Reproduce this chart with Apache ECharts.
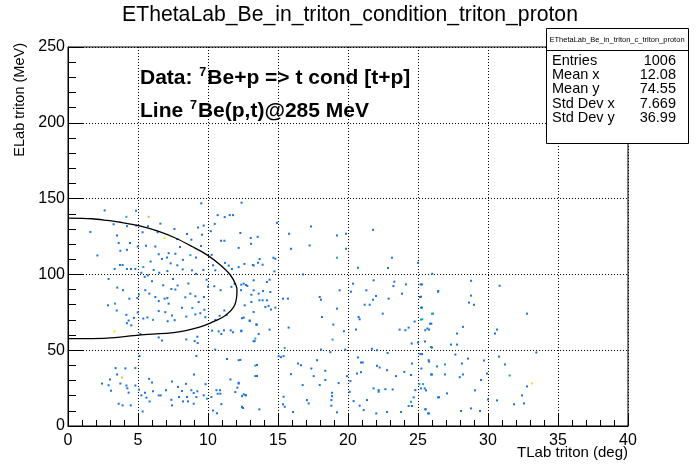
<!DOCTYPE html>
<html>
<head>
<meta charset="utf-8">
<script src="https://cdn.jsdelivr.net/npm/echarts@6/dist/echarts.min.js"></script>
<style>
html,body{margin:0;padding:0;background:#fff;}
#chart{width:698px;height:474px;}
</style>
</head>
<body>
<div id="chart"></div>
<script>
// ---- data ----
const chartTitle = 'EThetaLab_Be_in_triton_condition_triton_proton';
const xTitle = 'TLab triton (deg)';
const yTitle = 'ELab triton (MeV)';
const xRange = [0, 40, 5];
const yRange = [0, 250, 50];

// histogram cells: [theta (deg), energy (MeV), counts]
const cells = [
[9.52,146.9,1],[12.40,147.3,1],[2.62,142.2,1],[4.86,142.0,1],[4.17,138.0,2],[5.76,138.0,3],
[10.69,139.1,1],[11.55,139.1,1],[11.79,139.1,1],[11.19,137.8,1],[5.71,131.8,1],[3.26,133.1,1],
[4.88,132.2,1],[4.21,131.8,1],[5.33,127.8,1],[6.40,127.8,1],[9.29,130.9,1],[9.69,132.2,1],
[10.48,133.3,1],[3.50,125.6,1],[6.90,124.0,4],[7.79,123.3,1],[8.50,126.7,1],[8.81,122.9,1],
[9.57,126.2,1],[10.93,122.2,1],[11.17,122.2,1],[12.31,127.3,1],[13.05,124.0,1],[4.43,120.7,1],
[4.98,118.4,1],[3.62,120.7,1],[3.74,115.6,1],[4.21,116.2,1],[5.57,118.9,1],[6.24,118.4,1],
[6.48,113.3,1],[7.19,114.0,1],[7.67,113.6,1],[8.21,109.6,1],[8.74,112.7,2],[9.14,111.1,1],
[10.26,112.9,1],[6.71,110.2,1],[7.07,111.1,1],[7.33,107.3,1],[3.33,103.6,1],[3.71,106.2,1],
[3.90,106.2,1],[4.21,103.6,1],[4.50,103.6,1],[4.81,103.6,1],[5.38,104.9,2],[5.24,101.1,1],
[5.48,98.4,1],[5.71,99.3,1],[6.12,102.9,1],[6.52,101.1,1],[7.10,102.2,1],[7.81,106.0,1],
[8.19,103.3,1],[8.86,102.7,1],[9.14,100.4,1],[9.67,102.9,1],[10.36,106.0,1],[10.52,102.7,1],
[11.21,107.6,1],[11.48,105.8,1],[11.71,103.6,1],[12.60,106.9,1],[13.21,106.2,1],[3.52,91.3,1],
[3.93,89.6,1],[4.38,84.0,1],[4.95,84.4,1],[5.07,86.7,2],[5.52,89.6,1],[5.81,87.3,1],
[6.24,85.1,1],[6.48,82.4,1],[6.90,84.0,1],[7.10,84.4,1],[7.19,80.7,1],[7.38,90.4,1],
[7.67,90.0,1],[7.83,92.7,1],[8.38,84.9,1],[8.74,87.3,1],[9.10,85.6,1],[9.33,81.8,1],
[9.71,85.1,1],[10.00,91.8,1],[10.45,92.2,1],[10.90,89.6,1],[11.67,91.8,1],[11.90,93.8,1],
[12.36,89.6,1],[12.81,92.4,1],[13.10,81.8,1],[12.62,79.6,1],[2.86,79.6,1],[3.36,80.7,2],
[3.48,76.2,1],[4.17,73.3,1],[4.33,69.6,1],[4.21,67.8,1],[4.52,66.4,1],[4.71,71.3,1],
[4.98,74.9,1],[5.38,70.9,1],[5.67,71.6,1],[6.07,70.0,2],[6.48,75.8,1],[6.95,75.1,1],
[7.12,69.1,1],[7.43,72.9,1],[7.62,69.8,1],[8.14,78.0,1],[8.45,72.2,1],[8.88,77.8,2],
[9.10,73.6,1],[9.45,74.4,1],[9.74,76.7,1],[9.81,71.8,1],[10.52,70.0,1],[10.83,72.7,1],
[11.17,76.2,1],[11.33,73.3,1],[12.43,71.1,1],[12.98,69.6,1],[13.48,66.7,1],[3.33,62.4,4],
[5.17,60.7,1],[6.48,58.4,1],[8.45,57.1,1],[9.24,58.9,1],[10.29,62.9,1],[10.76,62.4,1],
[10.95,60.7,1],[11.14,63.1,1],[11.62,63.1,1],[11.79,61.8,1],[12.38,62.9,1],[13.62,60.7,1],
[2.1,112.5,1],[2.9,97.0,1],[1.6,128.0,1],[6.0,95.5,1],[7.5,97.0,1],[8.6,94.0,1],[9.9,96.5,1],
[6.8,92.8,1],[5.9,108.5,1],[8.0,118.0,1],[9.5,118.8,1],[10.2,128.5,1],[6.6,133.5,1],[7.6,130.0,1],
[6.71,56.4,1],[9.05,56.0,1],[9.26,54.7,1],[13.33,56.0,1],[5.10,46.2,1],[9.17,46.2,1],
[10.52,50.4,1],[11.36,44.2,1],[12.31,43.6,1],[13.50,40.2,1],[13.38,32.9,1],[3.40,38.2,1],
[4.10,38.0,1],[4.81,38.2,1],[3.50,34.0,1],[3.86,32.0,3],[3.00,30.7,1],[2.43,28.0,1],
[2.90,26.9,1],[3.07,23.3,1],[3.74,28.0,1],[4.17,26.7,1],[4.24,24.9,1],[4.33,22.0,1],
[4.81,26.7,1],[5.07,24.0,1],[5.50,22.0,1],[5.24,20.2,1],[5.79,31.1,1],[6.00,28.7,1],
[6.07,22.9,1],[5.60,18.7,1],[5.83,16.2,1],[3.62,14.7,1],[3.90,13.6,1],[4.48,13.6,1],
[5.33,9.6,1],[6.48,20.2,1],[6.62,20.2,1],[7.00,23.6,1],[7.43,29.3,1],[7.38,17.3,1],
[7.43,13.6,1],[7.86,25.8,1],[7.93,19.1,1],[8.14,23.1,1],[8.21,16.2,1],[8.50,19.1,1],
[8.57,16.2,1],[8.43,27.8,1],[8.81,23.6,1],[8.98,21.8,1],[9.00,34.0,1],[9.24,22.9,1],
[9.17,19.1,1],[8.98,14.7,1],[9.83,27.6,1],[9.69,20.2,1],[9.93,18.0,2],[10.24,19.1,1],
[10.60,23.6,1],[10.86,23.6,1],[10.88,21.3,1],[10.69,21.3,1],[10.36,10.2,1],[10.64,8.4,1],
[10.95,14.4,1],[11.60,30.7,1],[11.95,22.4,1],[12.19,28.0,1],[12.10,25.3,1],[12.55,20.9,1],
[12.71,20.2,1],[12.43,12.4,1],[12.50,11.8,1],
[14.93,134.0,1],[13.55,124.8,1],[13.07,120.2,1],[12.19,117.5,1],[15.79,126.8,1],[15.93,116.9,1],
[17.36,131.6,1],[17.26,119.1,1],[19.21,125.7,1],[19.86,126.8,1],[19.86,116.9,1],[19.21,111.0,2],
[21.79,129.4,1],[23.14,111.0,1],[22.86,104.2,1],[25.00,107.7,1],[20.71,104.4,1],[16.79,100.0,1],
[12.19,104.8,1],[13.26,105.9,1],[13.57,107.7,1],[13.69,110.1,1],[13.90,106.4,1],[14.67,111.0,1],
[14.74,102.0,1],[14.81,110.3,1],
[12.55,93.9,1],[12.38,93.2,1],[12.71,93.0,1],[13.26,96.1,1],[14.21,95.0,1],[14.40,96.5,1],
[13.26,89.5,1],[13.10,86.6,1],[13.62,87.3,1],[13.93,89.0,1],[14.45,88.4,1],[13.67,82.9,1],
[13.90,82.9,1],[14.21,82.9,1],[14.10,78.5,1],[14.33,79.2,1],[14.50,76.8,1],[14.81,78.1,1],
[13.26,75.2,1],[12.55,71.5,1],[12.98,69.3,1],[13.45,67.1,1],[14.40,63.6,1],[12.38,62.5,1],
[13.38,57.7,2],[13.26,55.9,1],[15.36,84.0,1],[15.71,84.0,1],[15.76,64.9,1],[15.48,51.5,2],
[17.98,85.1,1],[18.07,83.3,1],[18.14,71.9,1],[19.21,77.4,1],[18.95,66.9,1],[18.90,57.0,2],
[19.71,62.5,1],[19.40,89.5,1],[20.21,88.6,1],[20.36,93.9,1],[20.76,71.9,1],[20.83,70.4,1],
[20.57,63.6,1],[21.19,80.0,1],[21.55,80.0,1],[21.79,83.3,1],[22.00,85.7,1],[21.83,96.1,1],
[21.31,89.5,1],[22.48,74.1,1],[22.90,84.0,1],[23.24,92.3,1],[23.31,95.2,1],[23.86,87.3,1],
[24.14,93.4,1],[23.69,63.6,1],[24.10,63.2,1],[24.33,64.9,1],[24.76,68.9,1],[24.55,54.4,1],
[25.00,55.0,1],[25.14,85.1,1],[25.21,78.1,1],[25.21,70.2,2],[25.19,93.4,1],[25.52,63.2,1],
[25.67,64.3,1],[25.86,67.5,1],[26.00,74.1,2],[25.93,52.0,1],[26.45,89.0,1],[21.71,50.9,1],
[22.07,50.0,1],[22.83,48.2,1],[18.07,50.4,1],[18.74,48.7,1],[19.81,50.4,1],
[12.19,43.4,1],[13.38,39.9,2],[13.50,32.9,1],[12.67,20.4,1],[12.43,19.7,1],[12.43,12.7,1],
[13.67,11.0,1],[12.19,28.5,1],[15.05,46.1,1],[15.21,45.4,1],[15.40,46.1,1],[16.43,41.2,1],
[16.64,40.1,1],[15.93,34.2,1],[17.79,43.4,1],[17.38,37.9,1],[17.55,32.9,1],[16.76,27.0,1],
[15.40,19.3,1],[17.07,17.1,1],[17.19,14.9,1],[17.98,27.0,1],[18.38,36.4,1],[18.38,30.3,1],
[19.33,28.3,1],[18.86,21.9,1],[18.86,19.7,1],[18.81,17.1,1],[18.81,13.4,1],[19.21,9.0,1],
[16.07,9.2,1],[15.36,14.3,1],[15.48,12.7,1],[19.93,32.9,1],[20.17,29.6,1],[20.64,34.6,1],
[20.93,35.5,1],[20.93,41.9,1],[21.05,41.9,1],[20.71,45.2,1],[20.12,22.6,1],[20.40,16.4,1],
[20.83,13.4,1],[21.12,10.5,1],[22.02,8.3,1],[22.79,9.2,1],[23.79,9.2,1],[21.36,17.1,1],
[21.83,24.8,1],[22.19,23.7,1],[22.19,22.6,1],[22.67,24.3,1],[23.19,24.1,1],[22.07,39.7,1],
[22.26,38.6,1],[22.79,36.8,1],[23.43,32.9,1],[24.02,35.7,1],[24.50,33.6,1],[24.57,41.2,1],
[25.17,47.4,1],[25.24,37.9,1],[25.10,27.6,2],[24.81,23.7,1],[24.69,18.9,1],[24.50,16.0,2],
[24.57,13.2,1],[24.33,13.2,1],[25.48,24.8,1],[25.52,11.0,1],[25.71,8.3,1],[25.76,43.4,1],
[25.93,34.0,1],[26.43,18.9,1],
[26.02,100.4,1],[28.79,95.8,1],[30.83,92.5,1],[26.43,88.6,1],[25.29,93.4,1],[25.21,85.3,1],
[28.79,86.0,1],[28.64,81.4,1],[29.00,80.0,1],[25.29,78.1,1],[32.79,74.1,1],[26.07,74.1,2],
[25.31,70.4,2],[25.95,67.5,1],[28.21,65.4,1],[25.79,63.6,1],[30.64,63.6,1],[30.50,61.0,1],
[27.79,61.0,1],[25.50,55.7,1],[26.00,51.8,1],[27.36,53.7,1],[27.79,53.7,1],[33.45,48.5,1],
[25.29,47.4,1],[27.67,47.1,1],[30.79,45.8,1],[25.79,42.5,1],[26.93,40.6,2],[28.14,41.2,1],
[28.57,44.5,1],[29.71,43.2,1],[31.21,40.6,1],[26.36,39.3,1],[26.00,34.0,1],[26.93,34.0,1],
[28.21,34.0,1],[27.98,32.2,1],[29.50,30.3,1],[31.55,33.3,2],[29.93,34.6,1],[25.36,27.6,2],
[25.21,24.8,1],[25.57,23.5,1],[27.07,21.5,1],[29.07,23.5,1],[32.79,26.1,1],[33.14,28.1,4],
[26.50,18.9,1],[32.43,20.2,1],[30.00,17.5,1],[30.64,16.9,1],[31.86,14.3,1],[32.57,14.9,1],
[25.55,11.0,1],[28.07,9.9,1],[28.79,11.6,1],[29.43,9.9,1],[25.79,8.3,1]
];

// kinematic line 7Be(p,t)@285 MeV
const lineTheta  = [0, 1.71, 2.79, 3.74, 5.05, 6.48, 7.67, 8.86, 9.93, 10.88, 11.6, 12.0, 12.07, 11.9, 11.24, 10.29, 9.33, 7.67, 5.05, 2.79, 0];
const lineEnergy = [137.1, 136.7, 135.6, 134.4, 132.2, 128.4, 124.0, 118.4, 112.9, 106.2, 99.6, 92.9, 89.6, 79.6, 72.9, 68.4, 65.1, 61.8, 60.0, 58.0, 57.6];

const statsTitle = 'EThetaLab_Be_in_triton_c_triton_proton';
const statsLabels = ['Entries', 'Mean x', 'Mean y', 'Std Dev x', 'Std Dev y'];
const statsValues = ['1006', '12.08', '74.55', '7.669', '36.99'];

const countColors = {1: '#1a72da', 2: '#19a3b4', 3: '#f2b23e', 4: '#f3e21c'};

// ---- chart ----
const FONT = '"Liberation Sans", Arial, Helvetica, sans-serif';
const chart = echarts.init(document.getElementById('chart'), null, {renderer: 'canvas'});

const gridL = 68, gridT = 47, gridR = 628, gridB = 426;
const statsX = 546, statsY = 28, statsW = 142, statsH = 115;

const boldRich = {
  b: {fontSize: 21, fontWeight: 'bold', fontFamily: FONT, color: '#000', lineHeight: 24},
  s: {fontSize: 12.5, fontWeight: 'bold', fontFamily: FONT, color: '#000', verticalAlign: 'top', lineHeight: 24, padding: [0, 1, 10, 1]}
};

const graphics = [
  {type: 'text', x: 350, y: 15, style: {text: chartTitle, align: 'center', verticalAlign: 'middle', font: '21.2px ' + FONT, fill: '#000'}},
  {type: 'text', x: gridR, y: 453, style: {text: xTitle, align: 'right', verticalAlign: 'middle', font: '15px ' + FONT, fill: '#000'}},
  {type: 'text', x: 20, y: 43, rotation: Math.PI / 2, style: {text: yTitle, align: 'right', verticalAlign: 'middle', font: '14.5px ' + FONT, fill: '#000'}},
  {type: 'text', x: 140, y: 78, style: {text: '{b|Data: }{s|7}{b|Be+p => t cond [t+p]}', verticalAlign: 'middle', align: 'left', rich: boldRich}},
  {type: 'text', x: 140, y: 111, style: {text: '{b|Line }{s|7}{b|Be(p,t)@285 MeV}', verticalAlign: 'middle', align: 'left', rich: boldRich}},
  {type: 'rect', shape: {x: statsX + 0.5, y: statsY + 0.5, width: statsW, height: statsH}, style: {fill: '#fff', stroke: '#000', lineWidth: 1}, z: 10},
  {type: 'line', shape: {x1: statsX, y1: 50.5, x2: statsX + statsW, y2: 50.5}, style: {stroke: '#000', lineWidth: 1}, z: 11},
  {type: 'text', x: statsX + statsW / 2, y: 39.5, z: 11, style: {text: statsTitle, align: 'center', verticalAlign: 'middle', font: '7.5px ' + FONT, fill: '#000'}}
];
statsLabels.forEach((lab, i) => {
  const y = 61 + i * 14.2;
  graphics.push({type: 'text', x: 552, y: y, z: 11, style: {text: lab, align: 'left', verticalAlign: 'middle', font: '14.5px ' + FONT, fill: '#000'}});
  graphics.push({type: 'text', x: 676, y: y, z: 11, style: {text: statsValues[i], align: 'right', verticalAlign: 'middle', font: '14.5px ' + FONT, fill: '#000'}});
});

const dotted = {color: '#000', width: 1, type: [1, 2]};

chart.setOption({
  animation: false,
  backgroundColor: '#fff',
  grid: {left: gridL, top: gridT, right: 698 - gridR, bottom: 474 - gridB, show: true, borderColor: '#000', borderWidth: 1, backgroundColor: 'transparent'},
  xAxis: {
    type: 'value', min: xRange[0], max: xRange[1], interval: xRange[2],
    axisLine: {show: true, onZero: false, lineStyle: {color: '#000', width: 1}},
    axisTick: {show: true, inside: true, length: 12, lineStyle: {color: '#000'}},
    minorTick: {show: true, splitNumber: 5, length: 6, lineStyle: {color: '#000'}},
    splitLine: {show: true, lineStyle: dotted},
    axisLabel: {color: '#000', fontSize: 16, fontFamily: FONT, margin: 7}
  },
  yAxis: {
    type: 'value', min: yRange[0], max: yRange[1], interval: yRange[2],
    axisLine: {show: true, onZero: false, lineStyle: {color: '#000', width: 1}},
    axisTick: {show: true, inside: true, length: 16, lineStyle: {color: '#000'}},
    minorTick: {show: true, splitNumber: 5, length: 8, lineStyle: {color: '#000'}},
    splitLine: {show: true, lineStyle: dotted},
    axisLabel: {color: '#000', fontSize: 16, fontFamily: FONT, margin: 3}
  },
  series: [
    {
      type: 'scatter', symbol: 'rect', symbolSize: [2, 2], silent: true,
      data: cells,
      itemStyle: {color: p => countColors[p.value[2]] || countColors[1], opacity: 1},
      z: 3
    },
    {
      type: 'line', showSymbol: false, smooth: 0.3, silent: true,
      data: lineTheta.map((t, i) => [t, lineEnergy[i]]),
      lineStyle: {color: '#000', width: 1.3},
      z: 4
    }
  ],
  graphic: graphics
});
</script>
</body>
</html>
